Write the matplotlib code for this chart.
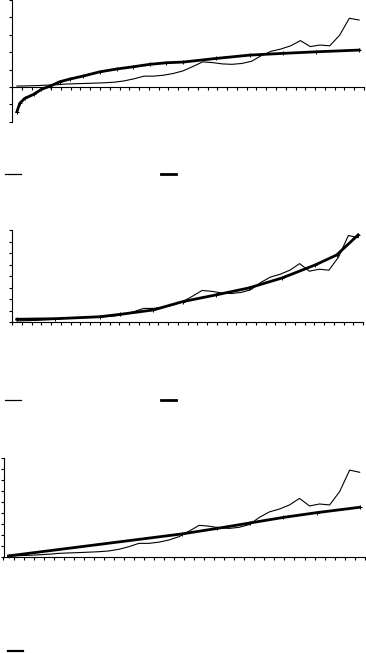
import matplotlib

matplotlib.use("Agg")
import matplotlib.pyplot as plt
from matplotlib.lines import Line2D

W, H = 366, 653

# 36 periods along the x axis
categories = list(range(36))

# observed series (thin line), same values in all three panels
actual = [0.10, 0.12, 0.15, 0.20, 0.25, 0.33, 0.37, 0.40, 0.44, 0.48,
          0.55, 0.70, 0.94, 1.24, 1.24, 1.35, 1.55, 1.85, 2.35, 2.88,
          2.80, 2.65, 2.60, 2.70, 2.95, 3.60, 4.10, 4.36, 4.73, 5.33,
          4.64, 4.82, 4.73, 5.94, 7.90, 7.70]

# trend lines (thick), read at these x positions
log_fit_x = [0, 0.3, 0.8, 1.7, 2.5, 3.4, 4.4, 5.4, 6.8, 8.5,
             10.2, 11.9, 13.6, 15.3, 17, 20.4, 23.8, 27.2, 30.6, 35]
log_fit_y = [-2.86, -1.88, -1.32, -0.86, -0.28, 0.10, 0.60, 0.90, 1.26, 1.74,
             2.06, 2.32, 2.60, 2.78, 2.86, 3.28, 3.66, 3.86, 4.04, 4.24]

growth_fit_x = [0, 3.9, 8.5, 10.6, 14, 17, 20.4, 23.8, 27.2, 30.6, 32.8, 35]
growth_fit_y = [0.25, 0.30, 0.48, 0.70, 1.10, 1.86, 2.47, 3.11, 4.02, 5.21, 6.12, 7.95]

linear_fit_x = [0, 17.3, 20.8, 24.1, 27.4, 30.7, 35]
linear_fit_y = [0.10, 2.10, 2.60, 3.10, 3.60, 4.03, 4.52]


def px_axes(fig, left, right, top, bottom):
    return fig.add_axes([left / W, 1 - bottom / H, (right - left) / W, (bottom - top) / H])


def style(ax, ylim, nticks, zero_spine=False):
    ax.set_xlim(-0.5, 35.5)
    ax.set_ylim(*ylim)
    for s in ("top", "right"):
        ax.spines[s].set_visible(False)
    for s in ("left", "bottom"):
        ax.spines[s].set_linewidth(0.8)
    if zero_spine:
        ax.spines["bottom"].set_position(("data", 0))
    ax.set_xticks([c - 0.5 for c in categories] + [35.5])
    step = (ylim[1] - ylim[0]) / (nticks - 1)
    ax.set_yticks([ylim[0] + k * step for k in range(nticks)])
    ax.tick_params(direction="out", length=2.3, width=0.8, labelleft=False, labelbottom=False)
    ax.patch.set_alpha(0)


def draw(ax, fx, fy):
    ax.plot(categories, actual, color="black", lw=0.8, clip_on=False)
    ax.plot(fx, fy, color="black", lw=2.0, marker="+", ms=2.2, mew=0.7, clip_on=False)


fig = plt.figure(figsize=(W / 100, H / 100), dpi=100)

ax1 = px_axes(fig, 12, 364, 0, 121.7)
style(ax1, (-4, 10), 8, zero_spine=True)
draw(ax1, log_fit_x, log_fit_y)

ax2 = px_axes(fig, 12, 363, 230, 322)
style(ax2, (0, 8.4), 9)
draw(ax2, growth_fit_x, growth_fit_y)

ax3 = px_axes(fig, 3.5, 364.7, 458, 557)
style(ax3, (0, 9), 10)
draw(ax3, linear_fit_x, linear_fit_y)

# legend keys (labels are cut off in the source)
def key(x0, x1, y, lw):
    fig.add_artist(Line2D([x0 / W, x1 / W], [1 - y / H, 1 - y / H], color="black", lw=lw))

key(5, 21, 174, 0.9)
key(161, 176, 174, 2.0)
key(5, 21, 400, 0.9)
key(161, 176, 400, 2.0)
key(8, 23, 651, 1.6)

fig.savefig("out.png", dpi=100)
